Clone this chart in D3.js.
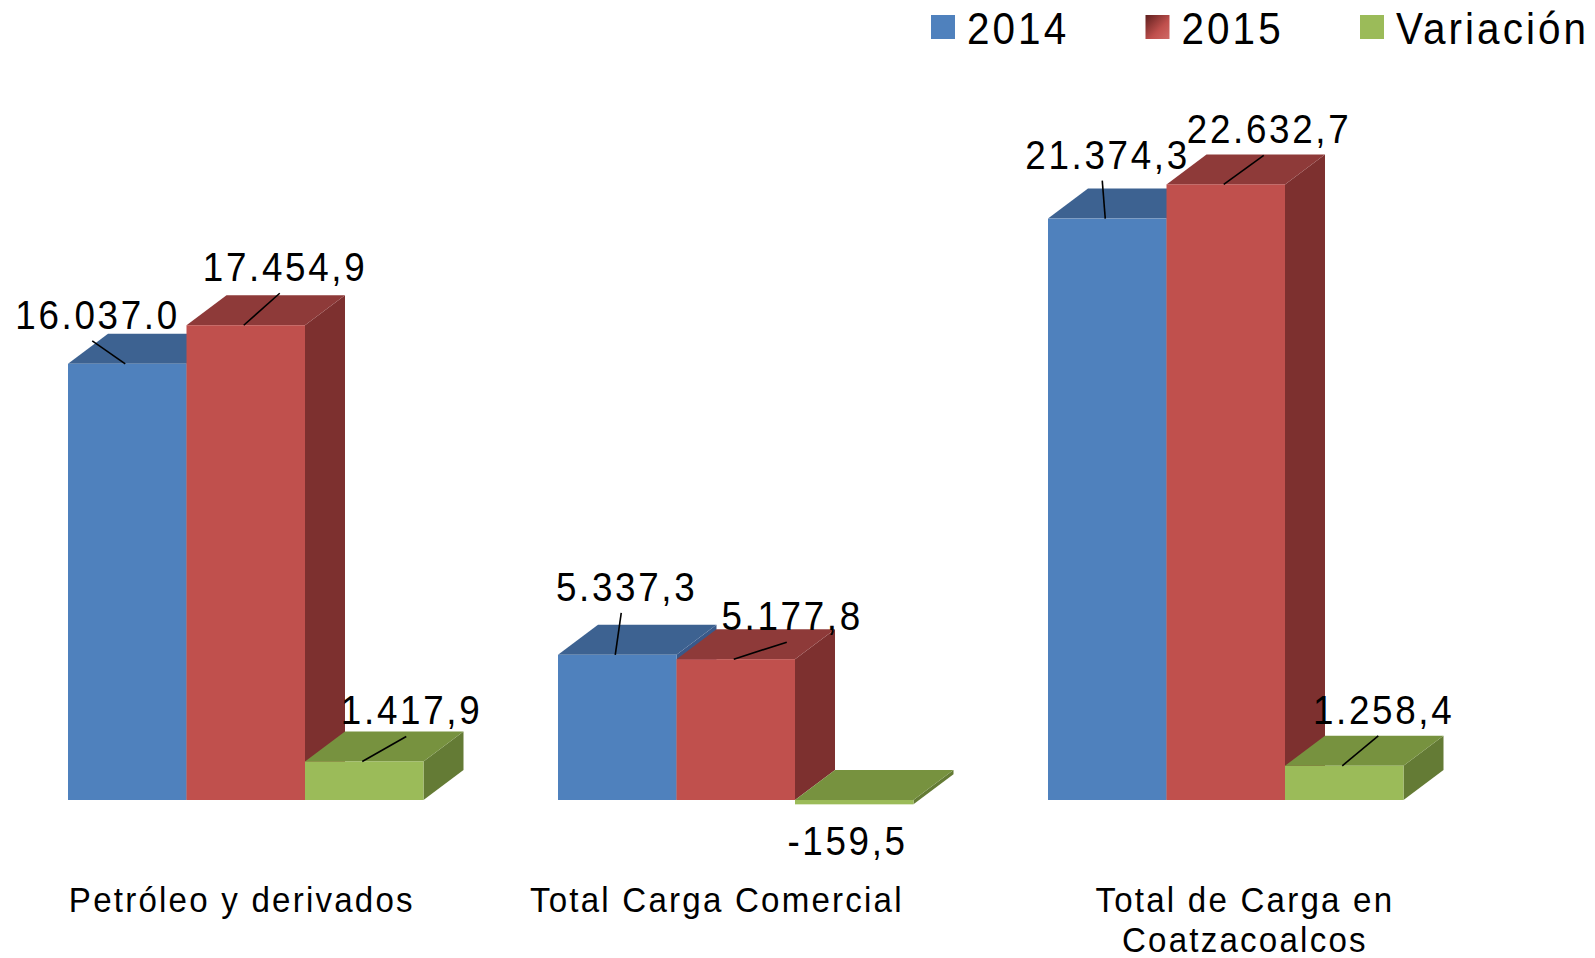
<!DOCTYPE html>
<html>
<head>
<meta charset="utf-8">
<script src="https://cdnjs.cloudflare.com/ajax/libs/d3/7.8.5/d3.min.js"></script>
<style>
  body { margin: 0; background: #fff; }
  text { font-family: "Liberation Sans", Arial, sans-serif; fill: #000; }
</style>
</head>
<body>
<div id="chart"></div>
<script>
const categories = ["Petróleo y derivados", "Total Carga Comercial", "Total de Carga en Coatzacoalcos"];
const series = ["2014", "2015", "Variación"];

const values2014 = [16037.0, 5337.3, 21374.3];
const values2015 = [17454.9, 5177.8, 22632.7];
const valuesVar = [1417.9, -159.5, 1258.4];

const labels2014 = ["16.037.0", "5.337,3", "21.374,3"];
const labels2015 = ["17.454,9", "5.177,8", "22.632,7"];
const labelsVar = ["1.417,9", "-159,5", "1.258,4"];

// where each data label was dragged to, relative to the top of its bar
const labelNudge = [
  [[-31, -35], [38, -44], [46, -37]],
  [[8, -54], [55, -29], [-8, 51]],
  [[-1, -50], [42, -41], [38, -42]]
];
// category labels don't sit exactly on the band centre in the source
const catShift = [-5, -20, 18];

const W = 1595, H = 958;
const SX = 0.92; // text is drawn a bit narrow, like the source
const depth = { dx: 40, dy: -30 };

const front = ["#4F81BD", "#C0504D", "#9BBB59"];
const top_ = ["#3D6291", "#8E3A39", "#77923F"];
const side = ["#39598A", "#7D302F", "#647B35"];

const values = [values2014, values2015, valuesVar];
const labels = [labels2014, labels2015, labelsVar];

const svg = d3.select("#chart").append("svg")
  .attr("width", W)
  .attr("height", H);

const defs = svg.append("defs");
const grad = defs.append("linearGradient")
  .attr("id", "legRed")
  .attr("x1", "0").attr("y1", "0").attr("x2", "1").attr("y2", "1");
grad.append("stop").attr("offset", "0").attr("stop-color", "#5e1f1e");
grad.append("stop").attr("offset", "0.6").attr("stop-color", "#C0504D");
grad.append("stop").attr("offset", "1").attr("stop-color", "#d06a66");

const x = d3.scaleBand()
  .domain(categories)
  .range([68, 1403.5])
  .paddingInner(0.2745)
  .paddingOuter(0);

const xs = d3.scaleBand()
  .domain(series)
  .range([0, x.bandwidth()])
  .padding(0);

const y = d3.scaleLinear()
  .domain([0, 25000])
  .range([800, 120]);

function squeezed(parent, px, py, str, size, ls, anchor) {
  const g = parent.append("g")
    .attr("transform", `translate(${px},${py}) scale(${SX},1)`);
  const t = g.append("text")
    .attr("x", anchor === "middle" ? ls / 2 : 0)
    .attr("text-anchor", anchor)
    .style("font-size", size + "px")
    .style("letter-spacing", ls + "px")
    .text(str);
  return t;
}

// bars
const data = [];
categories.forEach((c, i) => {
  series.forEach((s, j) => {
    data.push({ cat: c, ser: s, ci: i, si: j, value: values[j][i], label: labels[j][i] });
  });
});

const bars = svg.append("g").attr("class", "bars");
data.forEach((d) => {
  const x0 = x(d.cat) + xs(d.ser);
  const x1 = x0 + xs.bandwidth();
  const yTop = y(Math.max(0, d.value));
  const yBot = y(Math.min(0, d.value));
  const g = bars.append("g");

  g.append("polygon")
    .attr("points", [[x1, yTop], [x1 + depth.dx, yTop + depth.dy], [x1 + depth.dx, yBot + depth.dy], [x1, yBot]].join(" "))
    .style("fill", side[d.si]);

  g.append("polygon")
    .attr("points", [[x0, yTop], [x1, yTop], [x1 + depth.dx, yTop + depth.dy], [x0 + depth.dx, yTop + depth.dy]].join(" "))
    .style("fill", top_[d.si]);

  g.append("rect")
    .attr("x", x0)
    .attr("y", yTop)
    .attr("width", xs.bandwidth())
    .attr("height", Math.max(0.5, yBot - yTop))
    .style("fill", front[d.si]);
});

// data labels + leader lines
const lab = svg.append("g").attr("class", "labels");
data.forEach((d) => {
  const x0 = x(d.cat) + xs(d.ser);
  const ax = x0 + xs.bandwidth() / 2;
  const ay = y(d.value);
  const n = labelNudge[d.ci][d.si];
  const lx = ax + n[0], ly = ay + n[1];
  if (d.value >= 0) {
    lab.append("line")
      .attr("x1", ax - 2).attr("y1", ay)
      .attr("x2", lx - 4).attr("y2", ly + 12)
      .style("stroke", "#000")
      .style("stroke-width", 1.6);
  }
  squeezed(lab, lx, ly, d.label, 40, 2.9, "middle");
});

// category labels
const axisG = svg.append("g").attr("class", "x-axis");
categories.forEach((c, i) => {
  const cx = x(c) + x.bandwidth() / 2 + catShift[i];
  const words = c.split(" ");
  const lines = [];
  let cur = [];
  const probe = squeezed(axisG, -999, -999, "", 36, 2.4, "start");
  words.forEach((w) => {
    probe.text(cur.concat(w).join(" "));
    if (cur.length && probe.node().getComputedTextLength() * SX > 400) {
      lines.push(cur.join(" "));
      cur = [w];
    } else {
      cur.push(w);
    }
  });
  lines.push(cur.join(" "));
  probe.node().parentNode.remove();
  lines.forEach((ln, k) => {
    squeezed(axisG, cx, 912 + k * 40, ln, 36, 2.4, "middle");
  });
});

// legend
const legend = svg.append("g").attr("class", "legend");
series.forEach((s, i) => {
  const lx = 931 + i * 214.5;
  legend.append("rect")
    .attr("x", lx).attr("y", 15)
    .attr("width", 24).attr("height", 24)
    .style("fill", i === 1 ? "url(#legRed)" : front[i]);
  squeezed(legend, lx + 36, 44, s, 44, 3.3, "start");
});
</script>
</body>
</html>
